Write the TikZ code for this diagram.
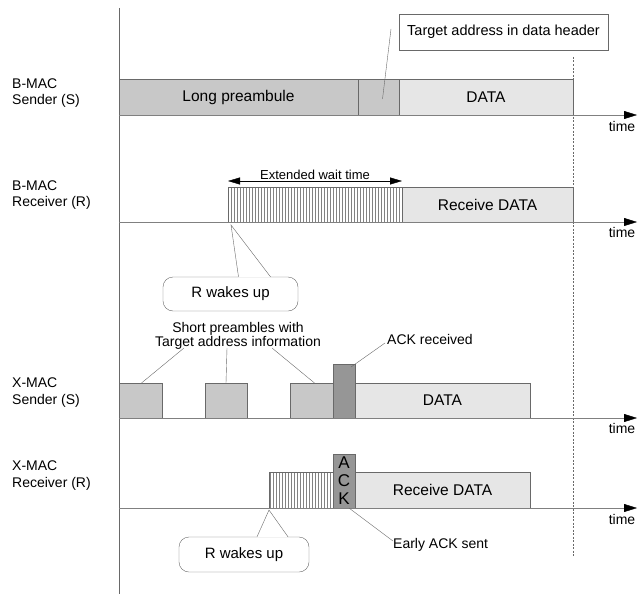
\documentclass[tikz,border=0pt]{standalone}
\usepackage{fontspec}
\setmainfont{Liberation Sans}
\usetikzlibrary{arrows.meta,patterns.meta}
\definecolor{pregray}{RGB}{200,200,200}
\definecolor{datgray}{RGB}{230,230,230}
\definecolor{ackgray}{RGB}{150,150,150}
\definecolor{lined}{RGB}{105,105,105}
\definecolor{hatchgray}{RGB}{130,130,130}

\begin{document}
\begin{tikzpicture}[x=1pt,y=-1pt,
    box/.style={draw=lined, anchor=north west, inner sep=0pt, outer sep=0pt,
      font=\fontsize{15.5}{17}\selectfont},
    pre/.style={box, fill=pregray},
    dat/.style={box, fill=datgray},
    ackbox/.style={box, fill=ackgray, minimum width=22pt, minimum height=54pt},
    waitbox/.style={box, pattern={Lines[angle=90,distance=3pt,line width=.5pt]},
      pattern color=hatchgray},
    rowlabel/.style={anchor=west, align=left, inner sep=0pt,
      font=\fontsize{14}{16.5}\selectfont},
    note/.style={inner sep=0pt, font=\fontsize{14}{14.5}\selectfont},
    timeaxis/.style={draw=gray, -{Triangle[length=13pt,width=8pt,color=black]}},
    callout/.style={draw=lined, fill=white, rounded corners=10pt, inner sep=0pt,
      font=\fontsize{15}{17}\selectfont},
  ]

  \useasboundingbox (0,0) rectangle (642,594);

  \coordinate (top) at (119,8);
  \coordinate (bot) at (119,594);
  \coordinate (ds) at (573,57);
  \coordinate (de) at (573,556);
  \draw[lined] (top) -- (bot);
  \draw[lined, dash pattern=on 2pt off 1.5pt] (ds) -- (de);

  \begin{scope}[every node/.style={rowlabel}]
    \node (bsl) at (12,93)    {B-MAC\\Sender (S)};
    \node (brl) at (12,195)   {B-MAC\\Receiver (R)};
    \node (xsl) at (12,392.5) {X-MAC\\Sender (S)};
    \node (xrl) at (12,475.5) {X-MAC\\Receiver (R)};
  \end{scope}

  \node[pre, minimum width=239pt, minimum height=36pt] (lp) at (119,79) {Long preambule};
  \node[pre, minimum width=41pt,  minimum height=36pt] (hd) at (358,79) {};
  \node[dat, minimum width=174pt, minimum height=36pt] (d1) at (399,79) {DATA};
  \node[box, fill=white, minimum width=209pt, minimum height=36pt,
    font=\fontsize{14.5}{16}\selectfont] (ta) at (399,14) {Target address in data header};

  \node[waitbox, minimum width=174pt, minimum height=35pt] (w1) at (228,187) {};
  \node[dat, minimum width=171pt, minimum height=35pt] (r1) at (402,187) {Receive DATA};

  \node[pre, minimum width=43pt,  minimum height=35pt] (s1) at (119,383) {};
  \node[pre, minimum width=42pt,  minimum height=35pt] (s2) at (205,383) {};
  \node[pre, minimum width=43pt,  minimum height=35pt] (s3) at (290,383) {};
  \node[dat, minimum width=175pt, minimum height=35pt] (d2) at (355,383) {DATA};
  \node[ackbox] (ack) at (333,364) {};

  \node[waitbox, minimum width=64pt, minimum height=36pt] (w2) at (269,472) {};
  \node[dat, minimum width=175pt, minimum height=36pt] (r2) at (355,472) {Receive DATA};
  \node[ackbox, align=center, font=\fontsize{17}{18}\selectfont] (ack2) at (333,454) {A\\C\\K};

  \coordinate (t1s) at (119,115);   \coordinate (t1e) at (637,115);
  \coordinate (t2s) at (119,222);   \coordinate (t2e) at (637,222);
  \coordinate (t3s) at (119,418);   \coordinate (t3e) at (637,418);
  \coordinate (t4s) at (119,508);   \coordinate (t4e) at (637,508);
  \draw[timeaxis] (t1s) -- (t1e);
  \draw[timeaxis] (t2s) -- (t2e);
  \draw[timeaxis] (t3s) -- (t3e);
  \draw[timeaxis] (t4s) -- (t4e);

  \begin{scope}[every node/.style={note}]
    \node (tm1) at (622,126) {time};
    \node (tm2) at (622,232) {time};
    \node (tm3) at (622,428) {time};
    \node (tm4) at (622,519) {time};
    \node[align=center] (sp) at (238,336) {Short preambles with\\Target address information};
    \node[anchor=west] (ar) at (387,339) {ACK received};
    \node[anchor=west] (ea) at (393,545) {Early ACK sent};
  \end{scope}

  \draw[{Triangle[length=12pt,width=7pt]}-{Triangle[length=12pt,width=7pt]}]
    ([yshift=6pt]w1.north west) -- node[above, inner sep=1pt,
    font=\fontsize{13}{15}\selectfont] {Extended wait time} ([yshift=6pt]w1.north east);

  \coordinate (tap) at (391,29);
  \begin{scope}[every edge/.style={draw=lined}]
    \path (tap) edge ([xshift=4pt,yshift=-2pt]hd.center);
    \path ([xshift=-54pt,yshift=2pt]sp.south) edge ([xshift=1pt]s1.north);
    \path ([xshift=-11pt,yshift=2pt]sp.south) edge (s2.north);
    \path ([xshift=34pt,yshift=2pt]sp.south) edge ([xshift=3pt]s3.north);
    \path ([xshift=-2pt,yshift=-4pt]ar.west) edge ([xshift=-4pt,yshift=-3pt]ack.north east);
    \path ([xshift=5pt]ack2.south) edge ([yshift=4pt]ea.west);
  \end{scope}

  \node[callout, minimum width=135pt, minimum height=34pt] (wk1) at (230.5,294) {R wakes up};
  \coordinate (tip1) at (231,225);
  \fill[white] ([xshift=8pt,yshift=-.6pt]wk1.north) -- (tip1) -- ([xshift=40pt,yshift=-.6pt]wk1.north) -- cycle;
  \draw[lined] ([xshift=8pt]wk1.north) -- (tip1) -- ([xshift=40pt]wk1.north);

  \node[callout, minimum width=130pt, minimum height=35pt] (wk2) at (244,554.5) {R wakes up};
  \coordinate (tip2) at (269,510);
  \fill[white] ([xshift=13pt,yshift=-.6pt]wk2.north) -- (tip2) -- ([xshift=44pt,yshift=-.6pt]wk2.north) -- cycle;
  \draw[lined] ([xshift=13pt]wk2.north) -- (tip2) -- ([xshift=44pt]wk2.north);

\end{tikzpicture}
\end{document}
